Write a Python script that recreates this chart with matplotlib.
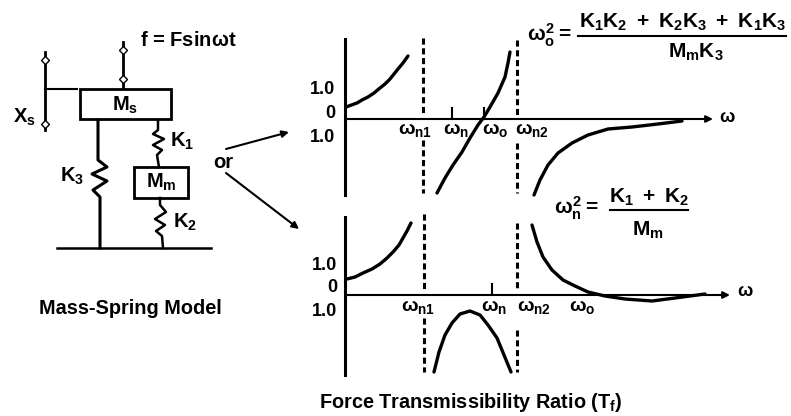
import matplotlib
matplotlib.use("Agg")
import matplotlib.pyplot as plt
from matplotlib.patches import Rectangle

plt.rcParams['font.family'] = ['Liberation Sans', 'DejaVu Sans']
plt.rcParams['mathtext.fontset'] = 'custom'
plt.rcParams['mathtext.rm'] = 'Liberation Sans:bold'
plt.rcParams['mathtext.it'] = 'Liberation Sans:bold'
plt.rcParams['mathtext.bf'] = 'Liberation Sans:bold'

# everything below is read off the scan, in image pixels
# upper response plot
top_curve_left_x = [346, 357, 362, 368, 374, 380, 385, 390, 394, 398, 403, 408]
top_curve_left_y = [107, 103, 100, 97, 93, 88, 84, 79, 74, 69, 63, 56]
top_curve_mid_x = [437, 445, 453, 462, 470, 478, 484, 490, 498, 505, 508, 510]
top_curve_mid_y = [193, 178, 165, 152, 138, 125, 117, 107, 93, 77, 63, 52]
top_curve_right_x = [534, 540, 548, 558, 572, 588, 608, 632, 658, 682]
top_curve_right_y = [195, 180, 165, 153, 143, 135, 129, 127, 124, 121]

# lower response plot
low_curve_left_x = [347, 355, 363, 372, 380, 387, 393, 399, 403, 407, 411]
low_curve_left_y = [279, 277, 273, 269, 264, 258, 252, 245, 238, 231, 223]
low_curve_mid_x = [434, 439, 445, 452, 460, 470, 480, 488, 497, 504, 511]
low_curve_mid_y = [372, 352, 335, 323, 314, 311, 315, 325, 338, 355, 372]
low_curve_right_x = [532, 537, 543, 552, 563, 575, 588, 605, 625, 652, 675, 705]
low_curve_right_y = [225, 242, 257, 270, 280, 286, 292, 296, 299, 301, 298, 294]

# springs of the model
spring_k1_x = [158, 158, 153, 164, 153, 162, 157, 159]
spring_k1_y = [120, 130, 134, 139, 145, 150, 155, 167]
spring_k2_x = [160, 160, 166, 155, 165, 156, 162, 163]
spring_k2_y = [198, 205, 212, 219, 225, 231, 236, 248]
spring_k3_x = [98, 98, 107, 92, 107, 93, 100, 100]
spring_k3_y = [120, 160, 167, 174, 181, 190, 197, 248]

top_labels = ["1.0", "0", "1.0"]
top_label_y = [90, 113, 137]
low_label_y = [265, 288, 312]
top_freqs = [r"$\omega_{n1}$", r"$\omega_n$", r"$\omega_o$", r"$\omega_{n2}$"]
top_freq_x = [415, 456, 495, 532]
low_freqs = [r"$\omega_{n1}$", r"$\omega_n$", r"$\omega_{n2}$", r"$\omega_o$"]
low_freq_x = [418, 494, 534, 582]

DASH = (0, (2.0, 1.2))


def arrow(ax, x0, y0, x1, y1, lw=1.5):
    ax.annotate("", xy=(x1, y1), xytext=(x0, y0),
                arrowprops=dict(arrowstyle="-|>", color="black", lw=lw, shrinkA=0, shrinkB=0))


def curve(ax, xs, ys):
    ax.plot(xs, ys, color="black", lw=2.4, solid_capstyle="round", solid_joinstyle="round")


fig = plt.figure(figsize=(7.91, 4.16), dpi=100)
ax = fig.add_axes([0, 0, 1, 1])
ax.set_xlim(0, 791)
ax.set_ylim(416, 0)
ax.axis("off")

# --- mass-spring model ---
ax.add_patch(Rectangle((80, 89), 91, 30, fill=False, ec="black", lw=2))
ax.add_patch(Rectangle((134, 167), 54, 31, fill=False, ec="black", lw=2))
ax.plot(spring_k1_x, spring_k1_y, color="black", lw=1.8)
ax.plot(spring_k2_x, spring_k2_y, color="black", lw=1.8)
ax.plot(spring_k3_x, spring_k3_y, color="black", lw=2.2)
ax.plot([57, 211], [248, 248], color="black", lw=1.8)
ax.plot([45, 77], [89, 89], color="black", lw=1.5)
ax.plot([45, 45], [52, 130], color="black", lw=2)
ax.plot([45, 45], [60, 124], color="black", marker="D", ms=4, mfc="white", mec="black", lw=0)
ax.plot([123, 123], [42, 88], color="black", lw=2)
ax.plot([123, 123], [50, 79], color="black", marker="D", ms=4, mfc="white", mec="black", lw=0)

model_kw = dict(fontsize=14.5, fontweight="bold", ha="center", va="center")
ax.text(188, 40, r"f = Fsin$\omega$t", **model_kw)
ax.text(24, 117, r"$X_s$", **model_kw)
ax.text(125, 105, r"$M_s$", **model_kw)
ax.text(182, 141, r"$K_1$", **model_kw)
ax.text(72, 176, r"$K_3$", **model_kw)
ax.text(161, 182, r"$M_m$", **model_kw)
ax.text(185, 222, r"$K_2$", **model_kw)
ax.text(223, 162, "or", **model_kw)
ax.text(130, 309, "Mass-Spring Model", fontsize=14.3, fontweight="bold", ha="center", va="center")

arrow(ax, 226, 149, 289, 132)
arrow(ax, 226, 173, 299, 229)

# --- upper plot ---
ax.plot([345, 345], [39, 195], color="black", lw=2.2)
arrow(ax, 345, 119, 713, 119)
ax.plot([423, 423], [38, 114], color="black", lw=2.2, ls=DASH)
ax.plot([423, 423], [140, 193], color="black", lw=2.2, ls=DASH)
ax.plot([517, 517], [40, 118], color="black", lw=2.2, ls=DASH)
ax.plot([517, 517], [143, 193], color="black", lw=2.2, ls=DASH)
ax.plot([452, 452], [108, 119], color="black", lw=1.5)
ax.plot([484, 484], [108, 119], color="black", lw=1.5)
curve(ax, top_curve_left_x, top_curve_left_y)
curve(ax, top_curve_mid_x, top_curve_mid_y)
curve(ax, top_curve_right_x, top_curve_right_y)
for lab, y in zip(top_labels, top_label_y):
    ax.text(335, y, lab, fontsize=13, fontweight="bold", ha="right", va="center")
for lab, x in zip(top_freqs, top_freq_x):
    ax.text(x, 130, lab, fontsize=14, ha="center", va="center")
ax.text(727, 117, r"$\omega$", fontsize=13, ha="center", va="center")

# --- lower plot ---
ax.plot([345, 345], [217, 375], color="black", lw=2.2)
arrow(ax, 345, 295, 730, 295)
ax.plot([424, 424], [214, 290], color="black", lw=2.2, ls=DASH)
ax.plot([424, 424], [318, 372], color="black", lw=2.2, ls=DASH)
ax.plot([517, 517], [223, 290], color="black", lw=2.2, ls=DASH)
ax.plot([517, 517], [330, 372], color="black", lw=2.2, ls=DASH)
ax.plot([492, 492], [284, 295], color="black", lw=1.5)
curve(ax, low_curve_left_x, low_curve_left_y)
curve(ax, low_curve_mid_x, low_curve_mid_y)
curve(ax, low_curve_right_x, low_curve_right_y)
for lab, y in zip(top_labels, low_label_y):
    ax.text(337, y, lab, fontsize=13, fontweight="bold", ha="right", va="center")
for lab, x in zip(low_freqs, low_freq_x):
    ax.text(x, 307, lab, fontsize=14, ha="center", va="center")
ax.text(745, 291, r"$\omega$", fontsize=13, ha="center", va="center")

# --- formulas ---
ax.text(549, 35, r"$\omega_o^2 =$", fontsize=15, ha="center", va="center")
ax.text(683, 22, r"$K_1K_2\ +\ K_2K_3\ +\ K_1K_3$", fontsize=15, ha="center", va="center")
ax.plot([578, 786], [36, 36], color="black", lw=1.5)
ax.text(696, 52, r"$M_mK_3$", fontsize=15, ha="center", va="center")
ax.text(576, 208, r"$\omega_n^2 =$", fontsize=15, ha="center", va="center")
ax.text(649, 197, r"$K_1\ +\ K_2$", fontsize=15, ha="center", va="center")
ax.plot([610, 688], [210, 210], color="black", lw=1.5)
ax.text(648, 230, r"$M_m$", fontsize=15, ha="center", va="center")

ax.text(471, 402, r"Force Transmissibility Ratio (T$_f$)", fontsize=14.3, fontweight="bold",
        ha="center", va="center")

fig.savefig("out.png", dpi=100)
